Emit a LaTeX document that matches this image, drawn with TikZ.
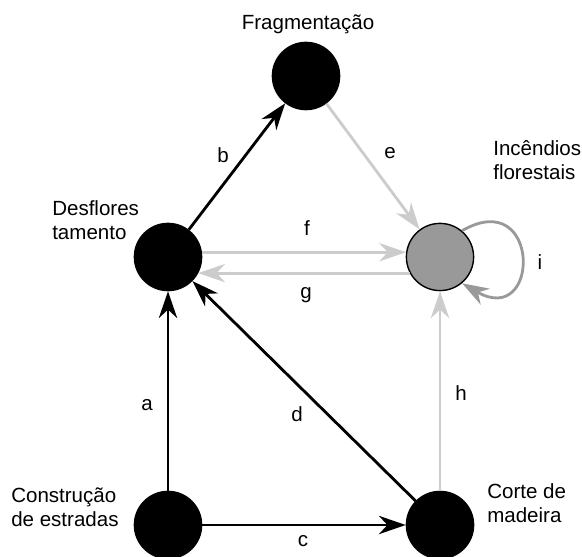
\documentclass[tikz,border=0pt]{standalone}
\usepackage{fontspec}
\setmainfont{Liberation Sans}
\usetikzlibrary{arrows.meta}

\begin{document}
\begin{tikzpicture}[x=0.025cm, y=0.025cm,
		every node/.style={font=\fontsize{14.6}{17.1}\selectfont},
		vertex/.style={circle, fill=black, draw=black, line width=1pt, minimum size=1.68cm, inner sep=0pt},
		firevertex/.style={vertex, fill=gray!80},
		arc/.style={line width=2pt, -{Stealth[length=19pt, width=13pt, inset=6pt]}},
		darkarc/.style={arc, black},
		lightarc/.style={arc, gray!40},
		looparc/.style={arc, gray!80},
		lbl/.style={inner sep=0pt}]
	\useasboundingbox (0,0) rectangle (582,556);
	\node[vertex] (frag) at (306,480) {};
	\node[vertex] (desf) at (168,299) {};
	\node[firevertex] (inc) at (440,299) {};
	\node[vertex] (cons) at (168,31) {};
	\node[vertex] (corte) at (440,31) {};
	\node[anchor=base, inner sep=0pt] (tfrag) at (308,526) {Fragmentação};
	\node[anchor=base west, align=left, inner sep=0pt] (tdesf) at (52,316) {Desflores\\tamento};
	\node[anchor=base west, align=left, inner sep=0pt] (tinc) at (493,376) {Incêndios\\florestais};
	\node[anchor=base west, align=left, inner sep=0pt] (tcons) at (11,29) {Construção\\de estradas};
	\node[anchor=base west, align=left, inner sep=0pt] (tcorte) at (487,33) {Corte de\\madeira};
	\draw[lightarc] (frag) -- (inc);
	\draw[lightarc] (desf.8) -- (inc.172);
	\draw[lightarc] (inc.-152) -- (desf.-28);
	\draw[lightarc] (corte) -- (inc);
	\draw[looparc] (inc.50) to[out=30, in=-30, distance=2.28cm] (inc.-50);
	\draw[darkarc] (cons) -- (desf);
	\draw[darkarc] (desf) -- (frag);
	\draw[darkarc] (cons) -- (corte);
	\draw[darkarc] (corte) -- (desf);
	\node[lbl] (la) at (147,151) {a};
	\node[lbl] (lb) at (223,401) {b};
	\node[lbl] (lc) at (303,15) {c};
	\node[lbl] (ld) at (297,142) {d};
	\node[lbl] (le) at (390,403) {e};
	\node[lbl] (lf) at (307,328) {f};
	\node[lbl] (lg) at (306,261) {g};
	\node[lbl] (lh) at (461,163) {h};
	\node[lbl] (li) at (540,294) {i};
\end{tikzpicture}
\end{document}
